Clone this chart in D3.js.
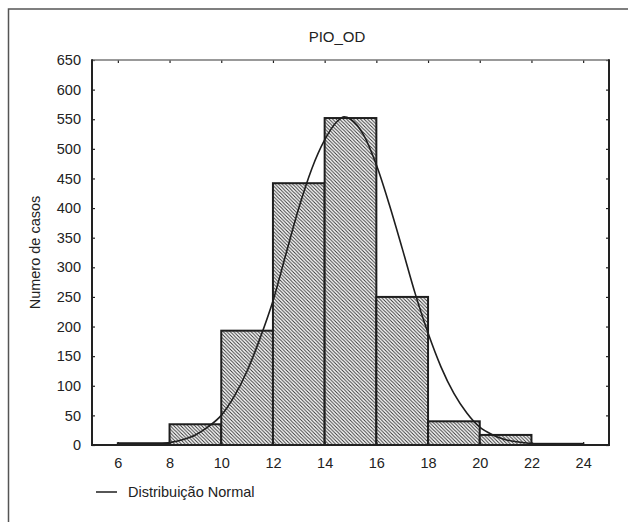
<!DOCTYPE html>
<html>
<head>
<meta charset="utf-8">
<script src="https://cdn.jsdelivr.net/npm/d3@7"></script>
<style>
  body { margin: 0; background: #fff; }
  text { font-family: "Liberation Sans", Arial, sans-serif; fill: #222; }
</style>
</head>
<body>
<div id="chart"></div>
<script>
// histogram of PIO_OD with fitted normal curve

const binEdges = [6, 8, 10, 12, 14, 16, 18, 20, 22, 24];
const counts = [3, 35, 193, 442, 552, 250, 40, 17, 2];

// normal curve
const curveX = [6, 6.5, 7, 7.5, 8, 8.5, 9, 9.5, 10, 10.5, 11, 11.5, 12, 12.5, 13, 13.5, 14, 14.5, 14.75,
  15, 15.5, 16, 16.5, 17, 17.5, 18, 18.5, 19, 19.5, 20, 20.5, 21, 21.5, 22, 22.5, 23, 23.5, 24];
const curveY = [0, 0.1, 0.3, 1, 4, 9, 17, 31, 50, 82, 125, 180, 243, 322, 400, 466, 515, 547, 554,
  550, 524, 473, 406, 332, 256, 189, 132, 87, 54, 30, 17, 9, 5, 2.5, 1, 0.5, 0.2, 0.1];

const xTicks = [6, 8, 10, 12, 14, 16, 18, 20, 22, 24];
const yTicks = d3.range(0, 651, 50);

const title = "PIO_OD";
const yLabel = "Numero de casos";
const legendLabel = "Distribuição Normal";

const width = 628, height = 522;
const margin = { left: 92, right: 19, top: 60, bottom: 77 };

const svg = d3.select("#chart").append("svg")
  .attr("width", width)
  .attr("height", height);

// hatch fill
const hs = 3.5;
svg.append("defs").append("pattern")
  .attr("id", "hatch")
  .attr("patternUnits", "userSpaceOnUse")
  .attr("width", hs)
  .attr("height", hs)
  .call(p => {
    p.append("rect").attr("width", hs).attr("height", hs).attr("fill", "#fff");
    p.append("path")
      .attr("d", `M0,0 L${hs},${hs} M-1,${hs - 1} L1,${hs + 1} M${hs - 1},-1 L${hs + 1},1`)
      .attr("stroke", "#333")
      .attr("stroke-width", 1);
  });

// outer frame (left + top only visible)
svg.append("path")
  .attr("d", `M8.5,${height} L8.5,9 L${width},9`)
  .attr("fill", "none")
  .attr("stroke", "#555")
  .attr("stroke-width", 1.5);

const x = d3.scaleLinear().domain([5, 25]).range([margin.left, width - margin.right]);
const y = d3.scaleLinear().domain([0, 650]).range([height - margin.bottom, margin.top]);

const x0 = x.range()[0], x1 = x.range()[1];
const y0 = y.range()[0], y1 = y.range()[1];

// bars
const bins = counts.map((c, i) => ({ a: binEdges[i], b: binEdges[i + 1], v: c }));
svg.append("g").selectAll("rect")
  .data(bins)
  .join("rect")
  .attr("x", d => x(d.a))
  .attr("y", d => y(d.v))
  .attr("width", d => x(d.b) - x(d.a))
  .attr("height", d => y(0) - y(d.v))
  .attr("fill", "url(#hatch)")
  .attr("stroke", "#1e1e1e")
  .attr("stroke-width", 2);

// normal curve
const line = d3.line()
  .x((d, i) => x(curveX[i]))
  .y(d => y(d))
  .curve(d3.curveMonotoneX);

svg.append("path")
  .attr("d", line(curveY))
  .attr("fill", "none")
  .attr("stroke", "#1e1e1e")
  .attr("stroke-width", 1.6);

// axes
const yAxis = svg.append("g")
  .attr("transform", `translate(${x0},0)`)
  .call(d3.axisLeft(y).tickValues(yTicks).tickSize(-3).tickPadding(11));
const xAxis = svg.append("g")
  .attr("transform", `translate(0,${y0})`)
  .call(d3.axisBottom(x).tickValues(xTicks).tickSize(-3).tickPadding(13));
const topAxis = svg.append("g")
  .attr("transform", `translate(0,${y1})`)
  .call(d3.axisTop(x).tickValues(xTicks).tickSize(-3).tickFormat(""));
const rightAxis = svg.append("g")
  .attr("transform", `translate(${x1},0)`)
  .call(d3.axisRight(y).tickValues(yTicks).tickSize(-3).tickFormat(""));

[yAxis, xAxis, topAxis, rightAxis].forEach(g => {
  g.select(".domain").remove();
  g.selectAll(".tick line").attr("stroke", "#222").attr("stroke-width", 1.2);
  g.selectAll("text").attr("font-size", 14.5).attr("fill", "#222")
    .style("font-family", "'Liberation Sans', Arial, sans-serif");
});

// plot frame
svg.append("line").attr("x1", x0).attr("x2", x1).attr("y1", y1).attr("y2", y1)
  .attr("stroke", "#777").attr("stroke-width", 1.5);
svg.append("line").attr("x1", x1).attr("x2", x1).attr("y1", y1 - 0.75).attr("y2", y0)
  .attr("stroke", "#222").attr("stroke-width", 2);
svg.append("line").attr("x1", x0).attr("x2", x0).attr("y1", y1 - 0.75).attr("y2", y0 + 1)
  .attr("stroke", "#222").attr("stroke-width", 2);
svg.append("line").attr("x1", x0).attr("x2", x1 + 1).attr("y1", y0).attr("y2", y0)
  .attr("stroke", "#222").attr("stroke-width", 2);

// title
svg.append("text")
  .attr("x", 337)
  .attr("y", 42)
  .attr("text-anchor", "middle")
  .attr("font-size", 15)
  .text(title);

// y label
svg.append("text")
  .attr("transform", `translate(40,${(y0 + y1) / 2}) rotate(-90)`)
  .attr("text-anchor", "middle")
  .attr("font-size", 14.5)
  .text(yLabel);

// legend
svg.append("line")
  .attr("x1", 96).attr("x2", 117)
  .attr("y1", 492).attr("y2", 492)
  .attr("stroke", "#1e1e1e")
  .attr("stroke-width", 1.5);
svg.append("text")
  .attr("x", 128)
  .attr("y", 497)
  .attr("font-size", 14.5)
  .text(legendLabel);
</script>
</body>
</html>
